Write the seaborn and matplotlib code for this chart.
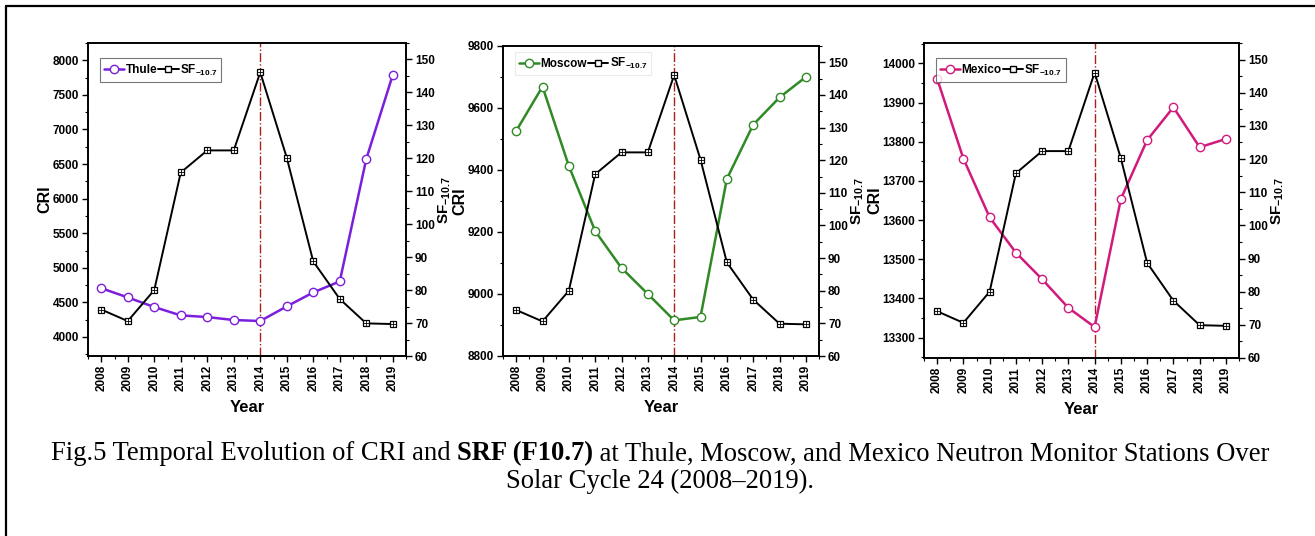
import matplotlib
matplotlib.use("Agg")
import matplotlib.pyplot as plt
import seaborn as sns
import numpy as np
import pandas as pd
from matplotlib.ticker import MultipleLocator
from matplotlib.lines import Line2D
from matplotlib import font_manager


years = [2008, 2009, 2010, 2011, 2012, 2013, 2014, 2015, 2016, 2017, 2018, 2019]

sf_107 = [74.1, 70.6, 80.0, 115.7, 122.4, 122.4, 146.1, 120.2, 88.7, 77.3, 69.9, 69.7]

thule_cri = [4705, 4572, 4433, 4312, 4288, 4245, 4231, 4442, 4644, 4803, 6572, 7788]
moscow_cri = [9526, 9669, 9413, 9203, 9084, 9000, 8915, 8926, 9371, 9546, 9634, 9700]
mexico_cri = [13961, 13757, 13607, 13517, 13449, 13376, 13327, 13654, 13804, 13888, 13786, 13807]

stations = ["Thule", "Moscow", "Mexico"]
station_colors = ["#7B1FDC", "#2F8A25", "#D11A7C"]
cri_ylims = [(3725, 8250), (8800, 9800), (13248, 14052)]
cri_major = [500, 200, 100]
cri_ticks = [(4000, 8000), (8800, 9800), (13300, 14000)]
axes_rects = [
    [88 / 1315, 180 / 536, 318 / 1315, 313 / 536],
    [503 / 1315, 180 / 536, 316 / 1315, 310 / 536],
    [924 / 1315, 178 / 536, 315 / 1315, 315 / 536],
]
legend_anchor = [(0.02, 0.97), (0.02, 1.0), (0.02, 0.97)]
legend_edge = ["#555555", "#E6E6E6", "#555555"]
peak_year = 2014

caption_1a = "Fig.5 Temporal Evolution of CRI and "
caption_1b = "SRF (F10.7)"
caption_1c = " at Thule, Moscow, and Mexico Neutron Monitor Stations Over"
caption_2 = "Solar Cycle 24 (2008\u20132019)."

sns.set_style("ticks")
installed = {f.name for f in font_manager.fontManager.ttflist}
narrow = "Liberation Sans Narrow" if "Liberation Sans Narrow" in installed else "Liberation Sans"
plt.rcParams["font.family"] = [narrow, "Liberation Sans", "DejaVu Sans"]
plt.rcParams["font.weight"] = "bold"
plt.rcParams["mathtext.fontset"] = "custom"
plt.rcParams["mathtext.rm"] = narrow + ":bold"
plt.rcParams["mathtext.bf"] = narrow + ":bold"
plt.rcParams["mathtext.default"] = "bf"
for k in ["text.color", "axes.labelcolor", "xtick.color", "ytick.color"]:
    plt.rcParams[k] = "black"

fig = plt.figure(figsize=(13.15, 5.36), dpi=100)

cri_all = [thule_cri, moscow_cri, mexico_cri]

for i, name in enumerate(stations):
    color = station_colors[i]
    df = pd.DataFrame({"Year": years, "CRI": cri_all[i], "SF": sf_107})
    ax = fig.add_axes(axes_rects[i])
    ax2 = ax.twinx()

    sns.lineplot(data=df, x="Year", y="CRI", ax=ax, color=color, lw=1.8,
                 marker="o", markersize=6, markerfacecolor="white",
                 markeredgecolor=color, markeredgewidth=1.0, zorder=3)
    sns.lineplot(data=df, x="Year", y="SF", ax=ax2, color="black", lw=1.4,
                 marker="s", markersize=5, markerfacecolor="white",
                 markeredgecolor="black", markeredgewidth=0.9, zorder=3)
    ax2.plot(df["Year"], df["SF"], ls="none", marker="+", markersize=4,
             color="black", markeredgewidth=0.6, zorder=4)

    ax.axvline(peak_year, color="#A8201A", lw=1.0, ls="-.", zorder=1)

    ax.set_xlim(2007.5, 2019.5)
    ax.set_ylim(*cri_ylims[i])
    ax2.set_ylim(60, 155)

    ax.set_xticks(years)
    ax.set_xticklabels([str(y) for y in years], rotation=90, fontsize=8.5,
                       fontweight="bold")
    ax.xaxis.set_minor_locator(MultipleLocator(0.5))
    lo, hi = cri_ticks[i]
    ax.set_yticks(np.arange(lo, hi + 1, cri_major[i]))
    ax.yaxis.set_minor_locator(MultipleLocator(cri_major[i] / 2))
    ax2.set_yticks(np.arange(60, 151, 10))
    ax2.yaxis.set_minor_locator(MultipleLocator(5))

    for a in (ax, ax2):
        a.tick_params(which="major", length=4, width=1.0, labelsize=8.5,
                      direction="out", pad=2.5)
        a.tick_params(which="minor", length=2.5, width=0.8, direction="out")
        for lab in a.get_yticklabels():
            lab.set_fontweight("bold")
        for s in a.spines.values():
            s.set_linewidth(1.2)
            s.set_visible(True)
            s.set_color("black")

    ax.set_xlabel("Year", fontsize=12, fontweight="bold", labelpad=6)
    ax.set_ylabel("CRI", fontsize=11.5, fontweight="bold", labelpad=0)
    ax2.set_ylabel("SF$_{-10.7}$", fontsize=11, fontweight="bold", labelpad=1)

    handles = [
        Line2D([], [], color=color, lw=1.8, marker="o", markersize=6,
               markerfacecolor="white", markeredgecolor=color),
        Line2D([], [], color="black", lw=1.4, marker="s", markersize=5,
               markerfacecolor="white", markeredgecolor="black"),
    ]
    leg = ax.legend(handles, [name, "SF$_{-10.7}$"], loc="upper left", ncol=2,
                    fontsize=8.5, handlelength=1.7, handletextpad=0.1,
                    columnspacing=0.1, borderpad=0.35, frameon=True,
                    fancybox=False, bbox_to_anchor=legend_anchor[i])
    leg.get_frame().set_edgecolor(legend_edge[i])
    leg.get_frame().set_linewidth(0.8)
    for t in leg.get_texts():
        t.set_fontweight("bold")

# caption in serif, middle part bold, centred under the panels
cap_font = ["Liberation Serif", "DejaVu Serif"]
cap_size = 19.2
cap_y1 = 1 - 454 / 536
parts = [(caption_1a, "normal"), (caption_1b, "bold"), (caption_1c, "normal")]
fig.canvas.draw()
r = fig.canvas.get_renderer()
texts = []
x = 0
for s, w in parts:
    t = fig.text(x, cap_y1, s, fontsize=cap_size, family=cap_font,
                 fontweight=w, va="center", ha="left", color="black")
    texts.append(t)
    x = t.get_window_extent(r).x1 / 1315
total = x
shift = 660 / 1315 - total / 2
for t in texts:
    px, py = t.get_position()
    t.set_position((px + shift, py))
fig.text(660 / 1315, 1 - 481 / 536, caption_2, fontsize=cap_size,
         family=cap_font, fontweight="normal", va="center", ha="center",
         color="black")

# frame lines at left and top of the figure
fig.add_artist(Line2D([6 / 1315, 6 / 1315], [0, 1 - 6 / 536], color="black",
                      lw=1.6, transform=fig.transFigure))
fig.add_artist(Line2D([6 / 1315, 1], [1 - 6 / 536, 1 - 6 / 536], color="black",
                      lw=1.6, transform=fig.transFigure))

fig.savefig("out.png", dpi=100)
plt.close(fig)
